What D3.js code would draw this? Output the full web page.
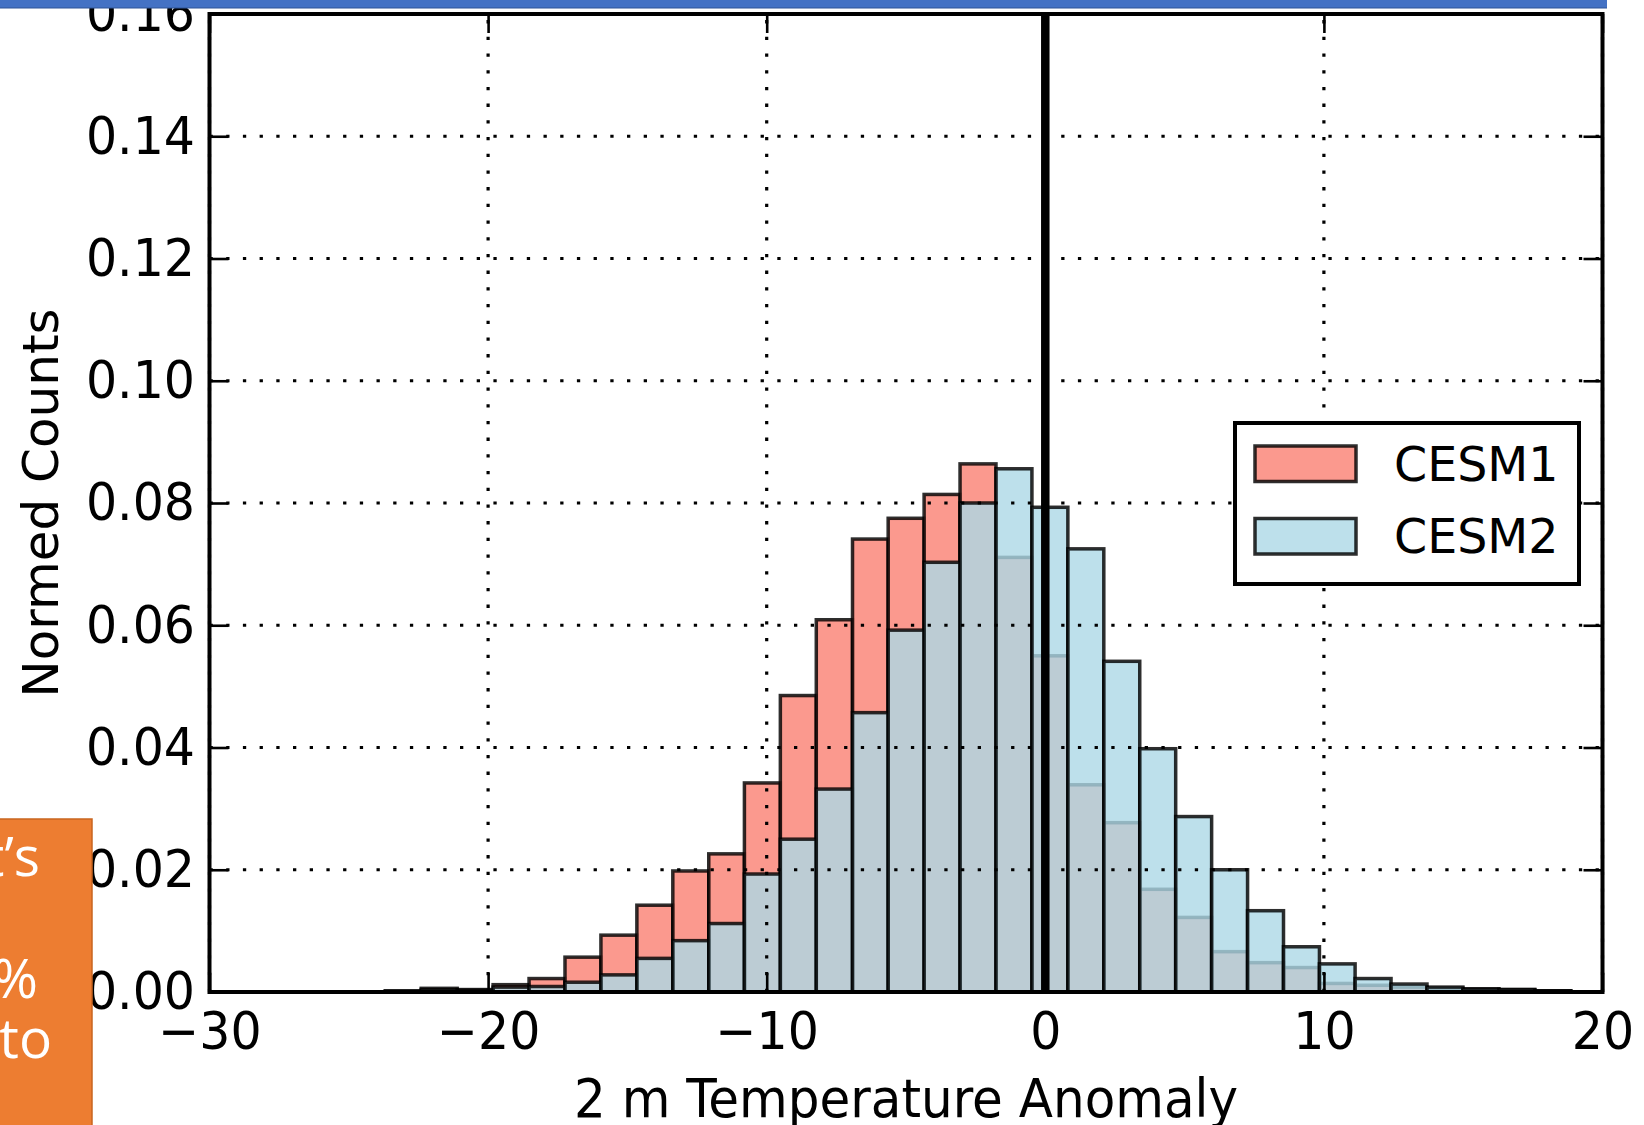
<!DOCTYPE html>
<html>
<head>
<meta charset="utf-8">
<script src="https://cdn.jsdelivr.net/npm/d3@7"></script>
<style>
  html, body { margin: 0; padding: 0; background: #fff; }
  svg { display: block; }
  .tall { transform-box: fill-box; transform-origin: 50% 50%; transform: scaleY(1.07); }
</style>
</head>
<body>
<script>
// ---- data ----
const binEdges = [-23.69, -22.40, -21.11, -19.82, -18.53, -17.24, -15.95, -14.66, -13.37, -12.08,
  -10.80, -9.51, -8.22, -6.92, -5.64, -4.35, -3.06, -1.77, -0.48, 0.81,
  2.10, 3.39, 4.68, 5.97, 7.26, 8.55, 9.84, 11.12, 12.41, 13.70,
  14.99, 16.28, 17.57, 18.86];
const cesm1 = [0.0002, 0.0006, 0.0004, 0.0012, 0.0022, 0.0057, 0.0093, 0.0142, 0.0198, 0.0226,
  0.0342, 0.0485, 0.0609, 0.0741, 0.0775, 0.0814, 0.0864, 0.0711, 0.0550, 0.0339,
  0.0277, 0.0168, 0.0122, 0.0066, 0.0048, 0.0040, 0.0014, 0.0011, 0.0008, 0.0006,
  0.0005, 0.0004, 0.0002];
const cesm2 = [0.0001, 0.0004, 0.0003, 0.0008, 0.0009, 0.0016, 0.0028, 0.0055, 0.0084, 0.0112,
  0.0193, 0.0250, 0.0332, 0.0457, 0.0592, 0.0703, 0.0800, 0.0856, 0.0793, 0.0725,
  0.0541, 0.0398, 0.0287, 0.0200, 0.0133, 0.0074, 0.0046, 0.0022, 0.0013, 0.0008,
  0.0005, 0.0004, 0.0002];
const seriesNames = ["CESM1", "CESM2"];
const xTicks = [-30, -20, -10, 0, 10, 20];
const yTicks = [0, 0.02, 0.04, 0.06, 0.08, 0.10, 0.12, 0.14, 0.16];
const xDomain = [-30, 20];
const yDomain = [0, 0.16];
const refLine = 0;
const xLabel = "2 m Temperature Anomaly";
const yLabel = "Normed Counts";
const sideText = ["it’s", "", "50%", "to"];

// ---- layout ----
const W = 1644, H = 1125;
const L = 209.5, R = 1602.5, T = 14, B = 992;
const font = "DejaVu Sans, Bitstream Vera Sans, sans-serif";

const svg = d3.select("body").append("svg").attr("width", W).attr("height", H);
const x = d3.scaleLinear().domain(xDomain).range([L, R]);
const y = d3.scaleLinear().domain(yDomain).range([B, T]);

const colors = ["#fa8072", "#add8e6"];

function drawHist(vals, color) {
  svg.append("g").selectAll("rect").data(vals).join("rect")
    .attr("x", (d, i) => x(binEdges[i]))
    .attr("width", (d, i) => x(binEdges[i + 1]) - x(binEdges[i]))
    .attr("y", d => y(d))
    .attr("height", d => y(0) - y(d))
    .attr("fill", color).attr("fill-opacity", 0.8)
    .attr("stroke", "#000").attr("stroke-opacity", 0.82)
    .attr("stroke-width", 3.5);
}
drawHist(cesm1, colors[0]);
drawHist(cesm2, colors[1]);

// grid (drawn over bars)
const grid = svg.append("g").attr("stroke", "#000").attr("stroke-width", 3.2)
  .attr("stroke-dasharray", "3.3,13.4").attr("fill", "none");
grid.selectAll(".gy").data(yTicks).join("line")
  .attr("x1", L).attr("x2", R).attr("y1", d => y(d)).attr("y2", d => y(d));
grid.selectAll(".gx").data(xTicks).join("line")
  .attr("x1", d => x(d)).attr("x2", d => x(d)).attr("y1", B).attr("y2", T);

// zero reference line
svg.append("line").attr("x1", x(refLine)).attr("x2", x(refLine))
  .attr("y1", T).attr("y2", B).attr("stroke", "#000").attr("stroke-width", 8.5);

// axes
function styleAxis(g, hideText) {
  g.select(".domain").remove();
  g.selectAll(".tick line").attr("stroke", "#000").attr("stroke-width", 2.6);
  g.selectAll(".tick text").attr("fill", "#000").attr("class", "tall")
    .style("font-family", font).style("font-size", "49px");
  if (hideText) g.selectAll(".tick text").remove();
}
svg.append("g").attr("transform", `translate(0,${B})`)
  .call(d3.axisBottom(x).tickValues(xTicks).tickSizeInner(-19).tickSizeOuter(0).tickPadding(21))
  .call(g => styleAxis(g, false));
svg.append("g").attr("transform", `translate(0,${T})`)
  .call(d3.axisTop(x).tickValues(xTicks).tickSizeInner(-19).tickSizeOuter(0))
  .call(g => styleAxis(g, true));
svg.append("g").attr("transform", `translate(${L},0)`)
  .call(d3.axisLeft(y).tickValues(yTicks).tickFormat(d3.format(".2f")).tickSizeInner(-19).tickSizeOuter(0).tickPadding(14.5))
  .call(g => styleAxis(g, false));
svg.append("g").attr("transform", `translate(${R},0)`)
  .call(d3.axisRight(y).tickValues(yTicks).tickSizeInner(-19).tickSizeOuter(0))
  .call(g => styleAxis(g, true));

// frame
svg.append("rect").attr("x", L).attr("y", T).attr("width", R - L).attr("height", B - T)
  .attr("fill", "none").attr("stroke", "#000").attr("stroke-width", 4);

// axis labels
svg.append("text").attr("x", (L + R) / 2).attr("y", 1116).attr("text-anchor", "middle")
  .attr("class", "tall")
  .style("font-family", font).style("font-size", "50px").text(xLabel);
svg.append("text").attr("transform", `translate(58,${(T + B) / 2}) rotate(-90)`)
  .attr("text-anchor", "middle")
  .style("font-family", font).style("font-size", "50px").text(yLabel);

// legend
const lg = svg.append("g");
lg.append("rect").attr("x", 1235).attr("y", 423).attr("width", 344).attr("height", 161)
  .attr("fill", "#fff").attr("stroke", "#000").attr("stroke-width", 4);
const lgRows = [446, 518.5];
seriesNames.forEach((name, i) => {
  lg.append("rect").attr("x", 1255).attr("y", lgRows[i]).attr("width", 101).attr("height", 35.5)
    .attr("fill", colors[i]).attr("fill-opacity", 0.8)
    .attr("stroke", "#000").attr("stroke-opacity", 0.82).attr("stroke-width", 3.5);
  lg.append("text").attr("x", 1394).attr("y", lgRows[i] + 34.5)
    .style("font-family", font).style("font-size", "47.5px").text(name);
});

// slide decorations: top banner and orange side box
svg.append("rect").attr("x", 0).attr("y", 0).attr("width", 1607).attr("height", 8)
  .attr("fill", "#4472c4");
svg.append("line").attr("x1", 0).attr("x2", 1607).attr("y1", 8).attr("y2", 8)
  .attr("stroke", "#2f5597").attr("stroke-width", 1);
svg.append("rect").attr("x", -2).attr("y", 819).attr("width", 94).attr("height", 310)
  .attr("fill", "#ed7d31").attr("stroke", "#c9651f").attr("stroke-width", 1.5);
const sideEnds = [40, 40, 38, 52];
const sideBase = [876, 937, 998, 1058];
sideText.forEach((t, i) => {
  if (!t) return;
  svg.append("text").attr("x", sideEnds[i]).attr("y", sideBase[i]).attr("text-anchor", "end")
    .attr("fill", "#fff").style("font-family", "Open Sans, Lato, sans-serif").style("font-size", "55px")
    .text(t);
});
</script>
</body>
</html>
